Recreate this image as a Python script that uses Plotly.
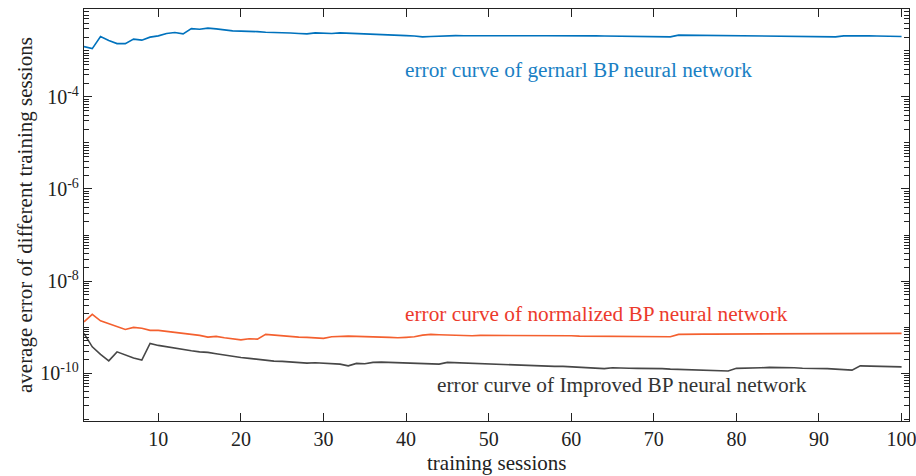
import plotly.graph_objects as go

sessions = list(range(1, 101))

general_bp = [
    1.24e-3, 1.12e-3, 2.05e-3, 1.68e-3, 1.44e-3, 1.44e-3, 1.80e-3, 1.71e-3, 1.99e-3, 2.12e-3,
    2.38e-3, 2.50e-3, 2.34e-3, 3.05e-3, 2.96e-3, 3.12e-3, 3.01e-3, 2.86e-3, 2.72e-3, 2.69e-3,
    2.68e-3, 2.62e-3, 2.55e-3, 2.53e-3, 2.50e-3, 2.44e-3, 2.38e-3, 2.34e-3, 2.46e-3, 2.43e-3,
    2.38e-3, 2.46e-3, 2.43e-3, 2.38e-3, 2.34e-3, 2.31e-3, 2.26e-3, 2.23e-3, 2.19e-3, 2.15e-3,
    2.10e-3, 2.02e-3, 2.06e-3, 2.10e-3, 2.13e-3, 2.15e-3, 2.14e-3, 2.13e-3, 2.12e-3, 2.12e-3,
    2.10e-3, 2.09e-3, 2.09e-3, 2.09e-3, 2.11e-3, 2.13e-3, 2.14e-3, 2.15e-3, 2.15e-3, 2.15e-3,
    2.14e-3, 2.13e-3, 2.12e-3, 2.11e-3, 2.10e-3, 2.09e-3, 2.08e-3, 2.07e-3, 2.06e-3, 2.05e-3,
    2.03e-3, 2.02e-3, 2.20e-3, 2.19e-3, 2.17e-3, 2.15e-3, 2.13e-3, 2.12e-3, 2.11e-3, 2.09e-3,
    2.09e-3, 2.09e-3, 2.09e-3, 2.08e-3, 2.07e-3, 2.06e-3, 2.05e-3, 2.04e-3, 2.03e-3, 2.02e-3,
    2.02e-3, 2.02e-3, 2.12e-3, 2.14e-3, 2.13e-3, 2.12e-3, 2.10e-3, 2.08e-3, 2.07e-3, 2.05e-3,
]

normalized_bp = [
    1.30e-9, 1.89e-9, 1.37e-9, 1.20e-9, 1.05e-9, 8.90e-10, 9.85e-10, 9.40e-10, 8.50e-10, 8.50e-10,
    8.06e-10, 7.67e-10, 7.30e-10, 6.94e-10, 6.60e-10, 6.06e-10, 6.28e-10, 5.85e-10, 5.56e-10, 5.29e-10,
    5.56e-10, 5.48e-10, 6.94e-10, 6.70e-10, 6.37e-10, 6.28e-10, 6.06e-10, 5.97e-10, 5.77e-10, 5.68e-10,
    6.15e-10, 6.37e-10, 6.37e-10, 6.28e-10, 6.28e-10, 6.15e-10, 6.06e-10, 5.97e-10, 5.85e-10, 5.97e-10,
    6.15e-10, 6.70e-10, 6.94e-10, 6.82e-10, 6.70e-10, 6.60e-10, 6.47e-10, 6.47e-10, 6.60e-10, 6.60e-10,
    6.70e-10, 6.70e-10, 6.70e-10, 6.70e-10, 6.70e-10, 6.70e-10, 6.60e-10, 6.60e-10, 6.47e-10, 6.47e-10,
    6.37e-10, 6.37e-10, 6.28e-10, 6.28e-10, 6.15e-10, 6.15e-10, 6.15e-10, 6.15e-10, 6.15e-10, 6.15e-10,
    6.15e-10, 6.15e-10, 6.94e-10, 7.04e-10, 7.04e-10, 7.04e-10, 7.04e-10, 7.04e-10, 7.04e-10, 7.04e-10,
    7.19e-10, 7.19e-10, 7.19e-10, 7.19e-10, 7.19e-10, 7.19e-10, 7.19e-10, 7.19e-10, 7.19e-10, 7.30e-10,
    7.30e-10, 7.30e-10, 7.30e-10, 7.30e-10, 7.30e-10, 7.30e-10, 7.30e-10, 7.30e-10, 7.30e-10, 7.30e-10,
]

improved_bp = [
    7.30e-10, 3.73e-10, 2.55e-10, 1.85e-10, 2.90e-10, 2.43e-10, 2.12e-10, 1.92e-10, 4.42e-10, 4.00e-10,
    3.73e-10, 3.44e-10, 3.27e-10, 3.05e-10, 2.90e-10, 2.82e-10, 2.63e-10, 2.46e-10, 2.34e-10, 2.19e-10,
    2.09e-10, 1.99e-10, 1.89e-10, 1.82e-10, 1.80e-10, 1.73e-10, 1.71e-10, 1.65e-10, 1.68e-10, 1.63e-10,
    1.60e-10, 1.57e-10, 1.44e-10, 1.63e-10, 1.60e-10, 1.71e-10, 1.73e-10, 1.71e-10, 1.65e-10, 1.63e-10,
    1.60e-10, 1.60e-10, 1.57e-10, 1.57e-10, 1.71e-10, 1.68e-10, 1.65e-10, 1.63e-10, 1.60e-10, 1.57e-10,
    1.55e-10, 1.52e-10, 1.49e-10, 1.47e-10, 1.44e-10, 1.44e-10, 1.42e-10, 1.40e-10, 1.40e-10, 1.37e-10,
    1.35e-10, 1.33e-10, 1.28e-10, 1.25e-10, 1.31e-10, 1.28e-10, 1.28e-10, 1.27e-10, 1.27e-10, 1.25e-10,
    1.25e-10, 1.22e-10, 1.20e-10, 1.18e-10, 1.18e-10, 1.16e-10, 1.15e-10, 1.13e-10, 1.11e-10, 1.27e-10,
    1.27e-10, 1.28e-10, 1.31e-10, 1.33e-10, 1.33e-10, 1.31e-10, 1.31e-10, 1.28e-10, 1.28e-10, 1.27e-10,
    1.25e-10, 1.22e-10, 1.18e-10, 1.16e-10, 1.44e-10, 1.42e-10, 1.42e-10, 1.40e-10, 1.40e-10, 1.37e-10,
]

x_ticks = [10, 20, 30, 40, 50, 60, 70, 80, 90, 100]
y_major = [1e-10, 1e-8, 1e-6, 1e-4]
y_major_text = ["10<sup>-10</sup>", "10<sup>-8</sup>", "10<sup>-6</sup>", "10<sup>-4</sup>"]
y_minor = [k * 10.0 ** n for n in range(-12, -1) for k in range(1, 10)
           if not (k == 1 and 10.0 ** n in y_major)]

labels = [
    ("error curve of gernarl BP neural network", "#1a7fc4", 39.6, -3.41),
    ("error curve of normalized BP neural network", "#ec3a2c", 39.6, -8.72),
    ("error curve of Improved BP neural network", "#333333", 43.5, -10.26),
]

x_title = "training sessions"
y_title = "average error of different training sessions"

FONT = "Liberation Serif, DejaVu Serif, serif"
INK = "#222222"

fig = go.Figure()
fig.add_trace(go.Scatter(x=sessions, y=general_bp, mode="lines",
                         line=dict(color="#0072BD", width=1.6), name="general"))
fig.add_trace(go.Scatter(x=sessions, y=normalized_bp, mode="lines",
                         line=dict(color="#F4602F", width=1.6), name="normalized"))
fig.add_trace(go.Scatter(x=sessions, y=improved_bp, mode="lines",
                         line=dict(color="#474747", width=1.6), name="improved"))

for text, color, xv, yv in labels:
    fig.add_annotation(x=xv, y=yv, xref="x", yref="y", text=text, showarrow=False,
                       xanchor="left", yanchor="middle",
                       font=dict(family=FONT, size=21.3, color=color))

fig.add_annotation(x=0.5, y=-0.102, xref="paper", yref="paper", text=x_title,
                   showarrow=False, xanchor="center", yanchor="middle",
                   font=dict(family=FONT, size=21, color=INK))
fig.add_annotation(x=-0.0715, y=0.5, xref="paper", yref="paper", text=y_title,
                   showarrow=False, xanchor="center", yanchor="middle", textangle=-90,
                   font=dict(family=FONT, size=21, color=INK))

fig.update_layout(
    width=916, height=476,
    margin=dict(l=84, r=7, t=9, b=55, autoexpand=False),
    paper_bgcolor="white", plot_bgcolor="white",
    showlegend=False,
    font=dict(family=FONT, size=20, color=INK),
)
fig.update_xaxes(
    range=[1, 100.9], tickmode="array", tickvals=x_ticks,
    ticks="inside", ticklen=8, tickwidth=1.2, tickcolor=INK,
    showline=True, linecolor=INK, linewidth=1.4, mirror="allticks",
    showgrid=False, zeroline=False, automargin=False,
    ticklabeloverflow="allow",
    tickfont=dict(family=FONT, size=20, color=INK),
)
fig.update_yaxes(
    type="log", range=[-11.04, -2.09], tickmode="array",
    tickvals=y_major, ticktext=y_major_text,
    ticks="inside", ticklen=8, tickwidth=1.2, tickcolor=INK,
    showline=True, linecolor=INK, linewidth=1.4, mirror="allticks",
    showgrid=False, zeroline=False, automargin=False,
    tickfont=dict(family=FONT, size=20, color=INK),
    minor=dict(tickmode="array", tickvals=y_minor, ticks="inside", ticklen=5,
               tickwidth=1.1, tickcolor=INK, showgrid=False),
)

fig.write_html("out.html", config={"displayModeBar": False},
               post_script="document.body.style.margin='0';document.body.style.overflow='hidden';")
